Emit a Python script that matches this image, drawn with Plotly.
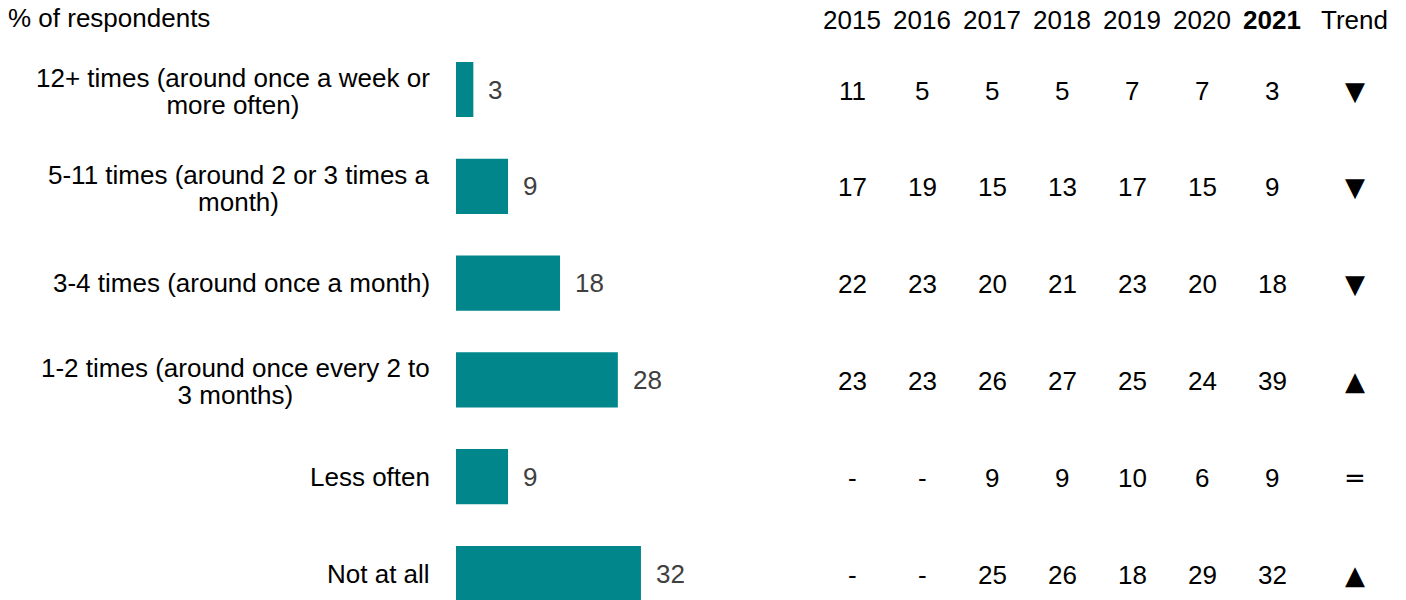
import plotly.graph_objects as go

# Frequency categories (top to bottom); "|" marks a line break in the label
categories = [
    "12+ times (around once a week or|more often)",
    "5-11 times (around 2 or 3 times a|month)",
    "3-4 times (around once a month)",
    "1-2 times (around once every 2 to|3 months)",
    "Less often",
    "Not at all",
]
bar_values = [3, 9, 18, 28, 9, 32]

years = ["2015", "2016", "2017", "2018", "2019", "2020", "2021"]
table_values = {
    "2015": ["11", "17", "22", "23", "-", "-"],
    "2016": ["5", "19", "23", "23", "-", "-"],
    "2017": ["5", "15", "20", "26", "9", "25"],
    "2018": ["5", "13", "21", "27", "9", "26"],
    "2019": ["7", "17", "23", "25", "10", "18"],
    "2020": ["7", "15", "20", "24", "6", "29"],
    "2021": ["3", "9", "18", "39", "9", "32"],
}
trend = ["▼", "▼", "▼", "▲", "=", "▲"]

W, H = 1406, 600
FONT = "Liberation Sans, Arial, sans-serif"
TEAL = "#00868B"
FS = 26

fig = go.Figure()

# Horizontal bars
fig.add_trace(go.Bar(
    x=bar_values, y=categories, orientation="h",
    marker=dict(color=TEAL, line=dict(width=0)),
    width=0.57, xaxis="x", yaxis="y", hoverinfo="skip",
))

# Value labels beside bars
for cat, v in zip(categories, bar_values):
    fig.add_annotation(
        x=v, y=cat, xref="x", yref="y", text=str(v), showarrow=False,
        xanchor="left", xshift=13, font=dict(family=FONT, size=FS, color="#404040"),
    )

# Category labels, right-aligned to the left of the bars, lines centred.
# Outer font size sets a tighter line spacing; inner spans set the glyph size.
for cat in categories:
    lines = cat.split("|")
    label = "<br>".join(f'<span style="font-size:{FS}px">{ln}</span>' for ln in lines)
    fig.add_annotation(
        x=432 / W, y=cat, xref="paper", yref="y", text=label, showarrow=False,
        xanchor="right", align="center", yshift=-2 if len(lines) > 1 else 0,
        font=dict(family=FONT, size=21, color="#000000"),
    )

# Yearly table: one column per year, then the trend marker
col_pos = {y: i for i, y in enumerate(years)}
trend_pos = 7.18
for yr in years:
    for cat, val in zip(categories, table_values[yr]):
        fig.add_annotation(
            x=col_pos[yr], y=cat, xref="x2", yref="y", text=val, showarrow=False,
            yshift=-1, font=dict(family=FONT, size=FS, color="#000000"),
        )
for cat, sym in zip(categories, trend):
    fig.add_annotation(
        x=trend_pos, y=cat, xref="x2", yref="y", text=sym, showarrow=False,
        yshift=-1, font=dict(family="DejaVu Sans, " + FONT, size=FS, color="#000000"),
    )

# Column headers
header_y = -0.72
for yr in years:
    label = f"<b>{yr}</b>" if yr == "2021" else yr
    fig.add_annotation(
        x=col_pos[yr], y=header_y, xref="x2", yref="y", text=label, showarrow=False,
        font=dict(family=FONT, size=FS, color="#000000"),
    )
fig.add_annotation(
    x=trend_pos, y=header_y, xref="x2", yref="y", text="Trend", showarrow=False,
    font=dict(family=FONT, size=FS, color="#000000"),
)

fig.add_annotation(
    x=6 / W, y=1 - 18 / H, xref="paper", yref="paper", text="% of respondents",
    showarrow=False, xanchor="left", yanchor="middle",
    font=dict(family=FONT, size=FS, color="#000000"),
)

bar_px0, bar_px1 = 456, 800
px_per_unit = 5.78
tab_px0, tab_px1 = 800, W
tab_c0, tab_step = 852, 70.0

fig.update_layout(
    width=W, height=H,
    margin=dict(l=0, r=0, t=0, b=0),
    paper_bgcolor="white", plot_bgcolor="white",
    showlegend=False,
    xaxis=dict(
        domain=[bar_px0 / W, bar_px1 / W],
        range=[0, (bar_px1 - bar_px0) / px_per_unit],
        visible=False, fixedrange=True,
    ),
    xaxis2=dict(
        domain=[tab_px0 / W, tab_px1 / W],
        range=[(tab_px0 - tab_c0) / tab_step, (tab_px1 - tab_c0) / tab_step],
        visible=False, anchor="y", fixedrange=True,
    ),
    yaxis=dict(
        domain=[0, 1], type="category",
        categoryorder="array", categoryarray=categories,
        range=[(H - 89.5) / 96.8, -89.5 / 96.8],
        visible=False, fixedrange=True,
    ),
)

fig.write_html("out.html")
